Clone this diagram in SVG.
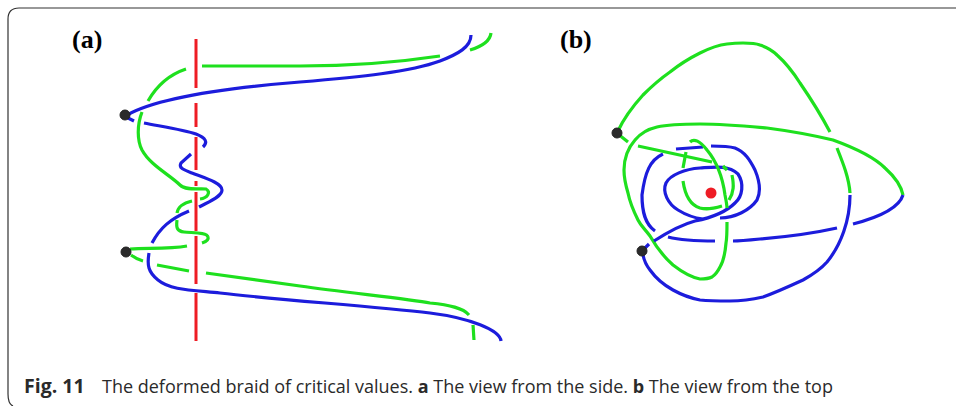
<svg xmlns="http://www.w3.org/2000/svg" width="956" height="406" viewBox="0 0 956 406">
<style>
.r{fill:none;stroke:#ee1c25;stroke-width:3}
.g{fill:none;stroke:#1ee01e;stroke-width:3.200;stroke-linecap:butt}
.b{fill:none;stroke:#1c1cdc;stroke-width:3.200;stroke-linecap:butt}
.d{fill:#2b2b2b;stroke:#222;stroke-width:1}
.l{font-family:"Liberation Serif",serif;font-weight:bold;font-size:26px;fill:#000}
.c{font-family:"Open Sans","Noto Sans",sans-serif;font-size:18px;fill:#2a2a2a}
.f{fill:none;stroke:#333;stroke-width:1.200}
</style>
<rect width="956" height="406" fill="#fff"/>
<path id="frame" class="f" d="M956 8H19Q8 8 8 19V394Q8 404 13 406"/>
<g id="connectors">
<path class="r" d="M196 39V88M196 103V127M196 137V170M196 181V186M196 192V231M196 236V284M196 293V341"/>
<path class="g" d="M202 66H300C350 66 400 62 440 56"/>
<path class="g" d="M186 69C168 75 156 87 148 101"/>
<path class="b" d="M127 115C150 102 200 90 300 82C360 77 410 72 440 61C458 54 471 47 471 35"/>
<path class="g" d="M470 50C480 47 490 42 491 33"/>
<path class="b" d="M128 118L134 121M144 123C165 127 185 130 196 134C206 138 208 142 203 147"/>
<path class="g" d="M142 112C137 125 137 140 142 150C150 165 170 175 180 185C186 191 200 188 206 189C211 192 208 198 200 199"/>
<path class="b" d="M191 154L181 163C178 168 184 170 192 173C205 178 222 183 222 190C222 197 208 202 199 207"/>
<path class="g" d="M192 201C183 203 178 207 177 213M177 220C176 228 177 231 184 232C192 233 207 232 208 237C209 240 205 242 202 243"/>
<path class="b" d="M189 211C170 219 160 228 152 243"/>
<path class="g" d="M130 249C150 248 170 249 187 246"/>
<path class="g" d="M131 255C135 258 139 260 143 261M157 265L189 271M206 273L300 286C350 293 410 299 430 303C450 305 463 308 469 315"/>
<path class="b" d="M149 253C147 265 148 272 158 280C170 290 190 290 220 293C280 300 370 306 430 313C470 318 500 330 501 341"/>
<path class="g" d="M473 325L474 340"/>

<path class="g" d="M618 131C624 118 633 106 643 95C652 86 660 79 670 72C680 64 690 58 700 53C710 48 718 45 727 44C735 43 740 43 743 43C750 43 755 43 760 45C766 47 772 50 777 55C786 63 793 72 800 83C811 99 821 115 830 132M837 148C843 163 849 178 850 193"/>
<path class="b" d="M850 195C850 220 841 245 827 262C820 270 812 275 803 280C790 286 777 292 763 297C750 300 740 301 730 301C720 301 710 301 700 300C690 298 682 295 673 290C662 284 655 277 650 270C646 265 644 260 643 255"/>
<path class="g" d="M727 222C727 232 727 238 726 243C725 255 723 262 720 267C717 273 715 275 712 277C708 279 704 279 700 279C690 277 682 272 673 265C665 258 658 250 650 236C644 228 641 226 638 220C633 210 630 203 628 193C625 183 624 178 624 170C624 158 628 148 635 140C640 134 648 129 657 127C670 124 685 124 700 124C725 124 745 126 767 128C790 131 812 135 833 140C855 148 875 158 885 168C895 177 901 185 903 195"/>
<path class="b" d="M903 195C899 208 880 217 853 224"/>
<path class="b" d="M837 228C810 234 785 237 760 239C750 240 740 241 733 241M715 241C695 241 680 240 668 237"/>
<path class="b" d="M654 241C668 232 680 225 695 221C710 218 725 213 735 203C743 196 744 183 738 174C728 165 715 167 700 168C685 169 670 175 666 183C662 192 668 204 678 210C686 215 695 218 703 219"/>
<path class="b" d="M649 244L644 249"/>
<path class="b" d="M720 218C735 218 750 210 757 200C761 192 760 182 755 170C750 160 745 152 735 148C728 146 720 146 711 146M703 147L676 149"/>
<path class="b" d="M663 154C650 160 645 172 642 195C642 212 645 224 655 231"/>
<path class="g" d="M618 134L628 142M638 146L712 162M723 166L727 170"/>
<path class="g" d="M686 152L683 168M683 181C685 195 690 205 700 208C708 210 715 208 722 206"/>
<path class="g" d="M690 142C694 138 700 141 707 150C717 162 723 180 725 195C727 205 727 206 727 208"/>
<path class="g" d="M732 175C734 185 734 192 729 200"/>
</g>
<g id="node-a1"><circle class="d" cx="125" cy="115" r="5"/></g>
<g id="node-a2"><circle class="d" cx="126" cy="252" r="5"/></g>
<g id="node-b1"><circle class="d" cx="617" cy="133" r="5"/></g>
<g id="node-b2"><circle class="d" cx="642" cy="251" r="5"/></g>
<g id="node-b3"><circle cx="711" cy="193" r="5.500" fill="#ee1c25"/></g>
<text class="l" x="72" y="48">(a)</text>
<text class="l" x="560" y="48">(b)</text>
<text class="c" x="24" y="393"><tspan font-weight="bold" font-size="19.500">Fig. 11</tspan><tspan x="102">The deformed braid of critical values. </tspan><tspan font-weight="bold">a</tspan> The view from the side. <tspan font-weight="bold">b</tspan> The view from the top</text>
</svg>
